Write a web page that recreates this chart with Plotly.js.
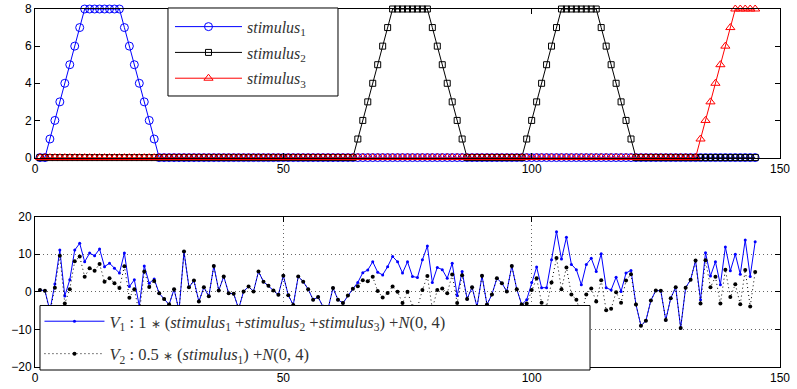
<!DOCTYPE html>
<html>
<head>
<meta charset="utf-8">
<script src="https://cdn.plot.ly/plotly-3.0.1.min.js"></script>
<style>html,body{margin:0;padding:0;background:#fff;}#chart{width:797px;height:389px;}</style>
</head>
<body>
<div id="chart"></div>
<script>
// ---- data (sample index 1..145) ----
const stimulus1 = [
  0,0,1,2,3,4,5,6,7,8,8,8,8,8,8,8,8,7,6,5,4,3,2,1,0,
  0,0,0,0,0,0,0,0,0,0,0,0,0,0,0,0,0,0,0,0,0,0,0,0,0,0,0,0,0,0,
  0,0,0,0,0,0,0,0,0,0,0,0,0,0,0,0,0,0,0,0,0,0,0,0,0,0,0,0,0,0,
  0,0,0,0,0,0,0,0,0,0,0,0,0,0,0,0,0,0,0,0,0,0,0,0,0,0,0,0,0,0,
  0,0,0,0,0,0,0,0,0,0,0,0,0,0,0,0,0,0,0,0,0,0,0,0,0,0,0,0,0,0
];
const stimulus2 = [
  0,0,0,0,0,0,0,0,0,0,0,0,0,0,0,0,0,0,0,0,0,0,0,0,0,0,0,0,0,0,0,0,
  0,0,0,0,0,0,0,0,0,0,0,0,0,0,0,0,0,0,0,0,0,0,0,0,0,0,0,0,0,0,0,0,
  1,2,3,4,5,6,7,8,8,8,8,8,8,8,8,7,6,5,4,3,2,1,0,
  0,0,0,0,0,0,0,0,0,0,0,
  1,2,3,4,5,6,7,8,8,8,8,8,8,8,8,7,6,5,4,3,2,1,0,
  0,0,0,0,0,0,0,0,0,0,0,0,0,0,0,0,0,0,0,0,0,0,0,0
];
const stimulus3 = [
  0,0,0,0,0,0,0,0,0,0,0,0,0,0,0,0,0,0,0,0,0,0,0,0,0,0,0,0,0,0,0,0,0,0,0,0,0,0,0,0,0,0,0,0,
  0,0,0,0,0,0,0,0,0,0,0,0,0,0,0,0,0,0,0,0,0,0,0,0,0,0,0,0,0,0,0,0,0,0,0,0,0,0,0,0,0,0,0,0,
  0,0,0,0,0,0,0,0,0,0,0,0,0,0,0,0,0,0,0,0,0,0,0,0,0,0,0,0,0,0,0,0,0,0,0,0,0,0,0,0,0,0,0,0,0,
  1,2,3,4,5,6,7,8,8,8,8,8
];
const v1 = [
  0.5,0.3,-5,2.1,11.1,-1.1,3.2,11.1,12.9,8.0,10.3,9.6,11.4,6.7,7.6,6.3,5.0,10.3,1.4,3.2,-3.8,6.9,2.3,3.4,-0.4,
  -1.9,-3.4,0.7,-5,10.7,1.2,3.0,-2.6,1.2,-1.2,6.9,0.35,4.1,-0.4,-0.5,-4.5,0.1,1.4,0.1,5.4,2.7,1.6,0.35,-0.8,4.3,
  -0.9,-3.5,4.1,2.7,0.7,-2.1,-1.4,-4,-4.5,1.0,-2.1,-3.0,-1.0,0.8,2.5,5.1,5.8,8.0,5.2,4.5,6.7,9.4,8.0,5.0,8.0,
  4.1,3.8,8.5,12.2,2.5,6.5,5.9,3.6,7.6,-1.0,5.4,-1.9,1.2,-4,4.3,-3.4,-0.7,3.6,2.3,0.1,6.9,0.7,-3.4,-2.1,2.5,
  6.6,1.1,1.1,8.5,16.0,8.7,14.5,7.3,5.9,1.9,7.3,8.9,5.4,10.1,1.1,0.5,3.9,0.1,5.0,5.7,-3.4,-9.0,-7.7,-2.3,0.35,
  0.27,-7.5,-1.7,1.2,-9.6,1.1,3.2,8.3,-2.1,10.4,4.2,8.0,1.9,11.9,5.6,10.0,4.7,13.8,4.1,13.3
];
const v2 = [
  0.5,0.3,-5.5,1.1,9.6,-3.1,0.7,8.1,9.4,4.0,6.3,5.6,7.4,2.7,3.6,2.3,1.0,6.8,-1.6,0.7,-5.8,5.4,1.3,2.9,-0.4,
  -1.9,-3.4,0.7,-5,10.7,1.2,3.0,-2.6,1.2,-1.2,6.9,0.35,4.1,-0.4,-0.5,-4.5,0.1,1.4,0.1,5.4,2.7,1.6,0.35,-0.8,4.3,
  -0.9,-3.5,4.1,2.7,0.7,-2.1,-1.4,-4,-4.5,1.0,-2.1,-3.0,-1.0,0.8,1.5,3.1,2.8,4.0,0.2,-1.5,-0.3,1.4,0.0,-3.0,0.0,
  -3.9,-4.2,0.5,4.2,-4.5,0.5,0.9,-0.4,4.6,-3.0,4.4,-1.9,1.2,-4,4.3,-3.4,-0.7,3.6,2.3,0.1,6.9,0.7,-3.4,-3.1,0.5,
  3.6,-2.9,-3.9,2.5,9.0,0.7,6.5,-0.7,-2.1,-6.1,-0.7,0.9,-2.6,3.1,-4.9,-4.5,-0.1,-2.9,3.0,4.7,-3.4,-9.0,-7.7,-2.3,0.35,
  0.27,-7.5,-1.7,1.2,-9.6,1.1,3.2,8.3,-3.1,8.4,1.2,4.0,-3.1,5.9,-1.4,2.0,-3.3,5.8,-3.9,5.3
];
const xTicks = [0, 50, 100, 150];
const yTicksTop = [0, 2, 4, 6, 8];
const yTicksBottom = [-20, -10, 0, 10, 20];
const star = '<span style="font-size:12px">\u2217</span>';
const names = ['<i>stimulus</i><sub>1</sub>', '<i>stimulus</i><sub>2</sub>', '<i>stimulus</i><sub>3</sub>'];
const namesV = [
  '<i>V</i><sub>1</sub> : 1 ' + star + ' (<i>stimulus</i><sub>1</sub> +<i>stimulus</i><sub>2</sub> +<i>stimulus</i><sub>3</sub>) +<i>N</i>(0, 4)',
  '<i>V</i><sub>2</sub> : 0.5 ' + star + ' (<i>stimulus</i><sub>1</sub>) +<i>N</i>(0, 4)'
];

const idx = v1.map((_, i) => i + 1);

const traces = [
  {x: idx, y: stimulus1, xaxis:'x', yaxis:'y', name: names[0], mode:'lines+markers', cliponaxis:false,
   line:{color:'#0000ff', width:1}, marker:{symbol:'circle-open', size:8, color:'#0000ff', line:{width:1}},
   legend:'legend', legendgroup:'a'},
  {x: idx, y: stimulus2, xaxis:'x', yaxis:'y', name: names[1], mode:'lines+markers', cliponaxis:false,
   line:{color:'#000000', width:1}, marker:{symbol:'square-open', size:6, color:'#000000', line:{width:1}},
   legend:'legend', legendgroup:'b'},
  {x: idx, y: stimulus3, xaxis:'x', yaxis:'y', name: names[2], mode:'lines+markers', cliponaxis:false,
   line:{color:'#ff0000', width:1}, marker:{symbol:'triangle-up-open', size:8, color:'#ff0000', line:{width:1}},
   legend:'legend', legendgroup:'c'},
  {x: idx, y: v1, xaxis:'x2', yaxis:'y2', name: namesV[0], mode:'lines+markers',
   line:{color:'#0000ff', width:1}, marker:{size:3, color:'#0000ff'},
   legend:'legend2', legendgroup:'d'},
  {x: idx, y: v2, xaxis:'x2', yaxis:'y2', name: namesV[1], mode:'lines+markers',
   line:{color:'#000000', width:1, dash:'1px,3px'}, marker:{size:4, color:'#000000'},
   legend:'legend2', legendgroup:'e'}
];

const axBase = {
  showline:true, linecolor:'#000', linewidth:1, mirror:'allticks',
  ticks:'inside', ticklen:5, tickcolor:'#000', zeroline:false,
  tickfont:{family:'Liberation Sans, Arial, sans-serif', size:12, color:'#000'}
};

const layout = {
  width:797, height:389,
  margin:{l:35, r:17, t:9, b:22},
  paper_bgcolor:'#fff', plot_bgcolor:'#fff',
  showlegend:true,
  xaxis: Object.assign({}, axBase, {domain:[0,1], anchor:'y', range:[0,150], tickvals:xTicks, showgrid:false}),
  yaxis: Object.assign({}, axBase, {domain:[0.585,1], anchor:'x', range:[0,8], tickvals:yTicksTop, showgrid:false}),
  xaxis2: Object.assign({}, axBase, {domain:[0,1], anchor:'y2', range:[0,150], tickvals:xTicks,
          showgrid:true, gridcolor:'#666', griddash:'1px,3px', gridwidth:1}),
  yaxis2: Object.assign({}, axBase, {domain:[0,0.42], anchor:'x2', range:[-20,20], tickvals:yTicksBottom,
          showgrid:true, gridcolor:'#666', griddash:'1px,3px', gridwidth:1}),
  shapes: [
    {type:'rect', xref:'paper', yref:'paper', x0:0.1785, x1:0.4067, y0:0.757, y1:1.0028,
     line:{color:'#000', width:1}, fillcolor:'#fff', layer:'above'},
    {type:'rect', xref:'paper', yref:'paper', x0:0.0067, x1:0.745, y0:-0.0084, y1:0.1718,
     line:{color:'#000', width:1}, fillcolor:'#fff', layer:'above'}
  ],
  legend: {x:0.1812, y:0.998, xanchor:'left', yanchor:'top', bgcolor:'rgba(0,0,0,0)', borderwidth:0,
           font:{family:'Liberation Serif, serif', size:16, color:'#333'}, itemwidth:67, tracegroupgap:2,
           traceorder:'grouped'},
  legend2: {x:0.006, y:0.176, xanchor:'left', yanchor:'top', bgcolor:'rgba(0,0,0,0)', borderwidth:0,
           font:{family:'Liberation Serif, serif', size:16.5, color:'#333'}, itemwidth:60, tracegroupgap:8,
           traceorder:'grouped'}
};

Plotly.newPlot('chart', traces, layout, {staticPlot:true, displayModeBar:false});
</script>
</body>
</html>
